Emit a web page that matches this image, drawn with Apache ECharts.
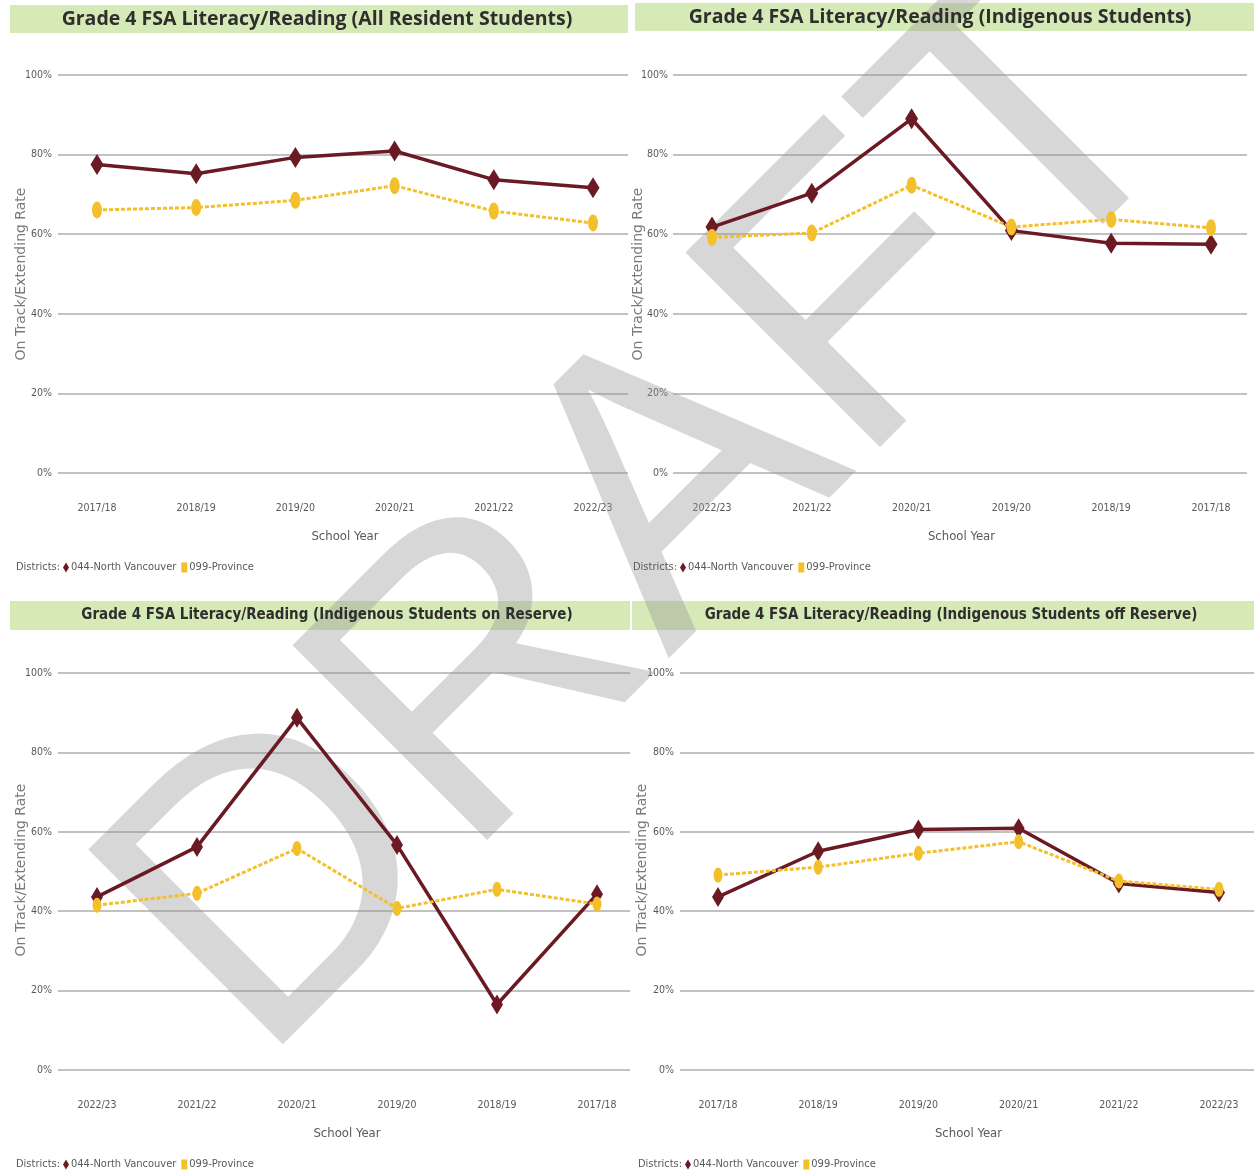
<!DOCTYPE html>
<html><head><meta charset="utf-8">
<script src="https://cdn.jsdelivr.net/npm/echarts@6/dist/echarts.min.js"></script>
<style>html,body{margin:0;padding:0;background:#fff}#c{width:1254px;height:1172px}</style>
</head><body><div id="c"></div>
<script>
// ---- data ----
const yearsAsc  = ['2017/18','2018/19','2019/20','2020/21','2021/22','2022/23'];
const yearsDesc = ['2022/23','2021/22','2020/21','2019/20','2018/19','2017/18'];
const titles = [
  'Grade 4 FSA Literacy/Reading (All Resident Students)',
  'Grade 4 FSA Literacy/Reading (Indigenous Students)',
  'Grade 4 FSA Literacy/Reading (Indigenous Students on Reserve)',
  'Grade 4 FSA Literacy/Reading (Indigenous Students off Reserve)'
];
const seriesNames = ['044-North Vancouver', '099-Province'];
const yAxisTitle = 'On Track/Extending Rate';
const xAxisTitle = 'School Year';
const legendPrefix = 'Districts:';
const watermarkText = 'DRAFT';
// All resident students (2017/18 -> 2022/23)
const allNV   = [77.5, 75.2, 79.3, 80.9, 73.7, 71.7];
const allProv = [66.1, 66.7, 68.5, 72.2, 65.8, 62.8];
// Indigenous students (2022/23 -> 2017/18)
const indNV   = [61.8, 70.3, 89.0, 60.9, 57.7, 57.5];
const indProv = [59.2, 60.3, 72.3, 61.8, 63.7, 61.6];
// Indigenous on reserve (2022/23 -> 2017/18)
const onNV    = [43.6, 56.2, 88.7, 56.7, 16.5, 44.3];
const onProv  = [41.5, 44.5, 55.8, 40.7, 45.5, 41.8];
// Indigenous off reserve (2017/18 -> 2022/23)
const offNV   = [43.6, 55.1, 60.6, 60.9, 47.0, 44.7];
const offProv = [49.1, 51.1, 54.6, 57.5, 47.6, 45.5];

const panelData = [
  {cats: yearsAsc,  nv: allNV, prov: allProv},
  {cats: yearsDesc, nv: indNV, prov: indProv},
  {cats: yearsDesc, nv: onNV,  prov: onProv},
  {cats: yearsAsc,  nv: offNV, prov: offProv}
];

// ---- layout / style ----
const NARROW = "'Liberation Sans Narrow','DejaVu Sans Condensed',sans-serif";
const MAROON = '#6b1a24';
const GOLD = '#f3c02c';
const GREEN = '#d5eab6';
const layout = [
  {gx:58,  gw:570, px:97,  pw:496, top:75,  h:398, bar:[10,5,618,28],   title:[317,19],  tfs:19.5, tff:"'Open Sans',sans-serif", yname:[21,274],  leg:[16,567],  lm:6, nv:[13,21], pv:[10,17]},
  {gx:673, gw:574, px:712, pw:499, top:75,  h:398, bar:[635,3,619,28],  title:[940,17],  tfs:19.5, tff:"'Open Sans',sans-serif", yname:[638,274], leg:[633,567], lm:5, nv:[13,21], pv:[10,17]},
  {gx:58,  gw:572, px:97,  pw:500, top:673, h:397, bar:[10,601,620,29], title:[327,615], tfs:15, tff:NARROW, yname:[21,870],  leg:[16,1164], lm:6, nv:[12,20], pv:[9,15]},
  {gx:680, gw:574, px:718, pw:501, top:673, h:397, bar:[632,601,622,29],title:[951,615], tfs:15, tff:NARROW, yname:[642,870], leg:[638,1164],lm:6, nv:[12,20], pv:[9,15]}
];

const grid = [], xAxis = [], yAxis = [], series = [], legend = [], graphic = [];
layout.forEach((L, i) => {
  const D = panelData[i];
  grid.push({left: L.gx, top: L.top, width: L.gw, height: L.h});
  grid.push({left: L.px, top: L.top, width: L.pw, height: L.h});
  xAxis.push({gridIndex: 2*i, type: 'value', min: 0, max: 1, show: false});
  xAxis.push({
    gridIndex: 2*i+1, type: 'category', data: D.cats, boundaryGap: false,
    axisLine: {show: false}, axisTick: {show: false},
    axisLabel: {margin: 30, fontFamily: NARROW, fontSize: 10.5, color: '#595959'},
    name: xAxisTitle, nameLocation: 'middle', nameGap: 57,
    nameTextStyle: {fontFamily: NARROW, fontSize: 13, color: '#595959'}
  });
  yAxis.push({
    gridIndex: 2*i, type: 'value', min: 0, max: 100, interval: 20,
    axisLine: {show: false}, axisTick: {show: false},
    axisLabel: {formatter: '{value}%', margin: L.lm, fontFamily: NARROW, fontSize: 10.5, color: '#595959'},
    splitLine: {show: true, lineStyle: {color: '#adadad', width: 1.5}}
  });
  yAxis.push({gridIndex: 2*i+1, type: 'value', min: 0, max: 100, show: false});
  series.push({
    name: seriesNames[0], type: 'line', xAxisIndex: 2*i+1, yAxisIndex: 2*i+1,
    data: D.nv, symbol: 'diamond', symbolSize: L.nv, z: 3,
    lineStyle: {color: MAROON, width: 3.5}, itemStyle: {color: MAROON}
  });
  series.push({
    name: seriesNames[1], type: 'line', xAxisIndex: 2*i+1, yAxisIndex: 2*i+1,
    data: D.prov, symbol: 'circle', symbolSize: L.pv, z: 4,
    lineStyle: {color: GOLD, width: 3, type: [4, 2]}, itemStyle: {color: GOLD}
  });
  legend.push({
    left: L.leg[0] + 47, top: L.leg[1] - 5, padding: 0, itemGap: 5,
    itemWidth: 6, itemHeight: 10,
    data: [{name: seriesNames[0], icon: 'diamond'}, {name: seriesNames[1], icon: 'rect'}],
    textStyle: {fontFamily: NARROW, fontSize: 11, color: '#595959', padding: [0,0,0,-3]}
  });
  graphic.push({type: 'rect', z: 0, shape: {x: L.bar[0], y: L.bar[1], width: L.bar[2], height: L.bar[3]}, style: {fill: GREEN}});
  graphic.push({type: 'text', z: 5, x: L.title[0], y: L.title[1], style: {
    text: titles[i], fill: '#2e2e2e', font: `bold ${L.tfs}px ${L.tff}`,
    align: 'center', verticalAlign: 'middle', textAlign: 'center', textVerticalAlign: 'middle'}});
  graphic.push({type: 'text', z: 5, x: L.yname[0], y: L.yname[1], rotation: Math.PI/2, style: {
    text: yAxisTitle, fill: '#7a7a7a', font: `14px 'DejaVu Sans',sans-serif`,
    align: 'center', verticalAlign: 'middle', textAlign: 'center', textVerticalAlign: 'middle'}});
  graphic.push({type: 'text', z: 5, x: L.leg[0], y: L.leg[1], style: {
    text: legendPrefix, fill: '#595959', font: `11px ${NARROW}`,
    align: 'left', verticalAlign: 'middle', textAlign: 'left', textVerticalAlign: 'middle'}});
});

// watermark
graphic.push({type: 'text', z: 1, x: 653, y: 518, rotation: Math.PI / 4, style: {
  text: watermarkText, font: "400px 'Liberation Sans',Arial,sans-serif",
  fill: 'rgba(150,150,150,0.38)', align: 'center', verticalAlign: 'middle',
  textAlign: 'center', textVerticalAlign: 'middle'}});

const chart = echarts.init(document.getElementById('c'), null, {renderer: 'canvas'});
chart.setOption({animation: false, backgroundColor: '#fff', grid, xAxis, yAxis, series, legend, graphic});
</script></body></html>
